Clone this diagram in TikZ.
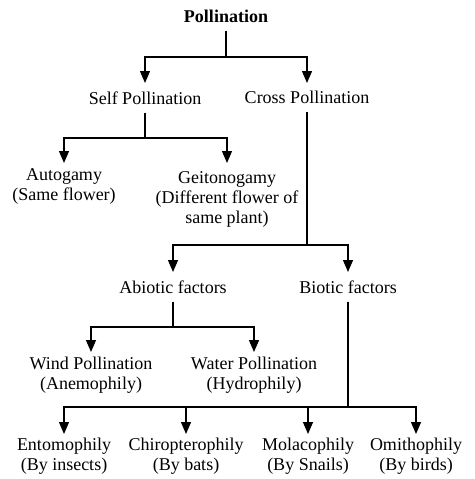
\documentclass[tikz,border=0pt]{standalone}
\usepackage{fontspec}
\setmainfont{Liberation Serif}
\usetikzlibrary{arrows.meta}

\begin{document}
\begin{tikzpicture}[x=1pt,y=-1pt,line width=1.3pt,
    arr/.style={-{Triangle[width=10pt,length=12pt]}},
    lbl/.style={align=center,inner xsep=0pt,inner ysep=3pt,anchor=north,
      font=\fontsize{18}{20}\selectfont}]
  \useasboundingbox (0,0) rectangle (474,479);

  % levels
  \node[lbl,anchor=base,inner ysep=8pt,font=\fontsize{18}{20}\selectfont\bfseries] (poll) at (226,22) {Pollination};
  \node[lbl,inner ysep=7.7pt] (self) at (145,83) {Self Pollination};
  \node[lbl,inner ysep=7.7pt] (cross) at (307,83) {Cross Pollination};
  \node[lbl,inner ysep=5pt] (auto) at (64,163) {Autogamy\\(Same flower)};
  \node[lbl,inner ysep=8pt] (geito) at (227,163) {Geitonogamy\\(Different flower of\\same plant)};
  \node[lbl,inner ysep=7.7pt] (abio) at (173,272) {Abiotic factors};
  \node[lbl,inner ysep=7.7pt] (bio) at (348,272) {Biotic factors};
  \node[lbl,inner ysep=4pt] (wind) at (91,352) {Wind Pollination\\(Anemophily)};
  \node[lbl,inner ysep=4pt] (water) at (254,352) {Water Pollination\\(Hydrophily)};
  \node[lbl] (ento) at (64,434) {Entomophily\\(By insects)};
  \node[lbl] (chiro) at (186,434) {Chiropterophily\\(By bats)};
  \node[lbl] (mola) at (308,434) {Molacophily\\(By Snails)};
  \node[lbl] (orni) at (416,434) {Omithophily\\(By birds)};

  % bars
  \coordinate (pbar) at (0,57);
  \coordinate (sbar) at (0,138);
  \coordinate (cbar) at (0,245);
  \coordinate (abar) at (0,327);
  \coordinate (bbar) at (0,407);

  \draw[arr] (poll) -- (poll |- pbar) -| (self);
  \draw[arr] (poll) -- (poll |- pbar) -| (cross);
  \draw[arr] (self) -- (self |- sbar) -| (auto);
  \draw[arr] (self) -- (self |- sbar) -| (geito);
  \draw[arr] (cross) -- (cross |- cbar) -| (abio);
  \draw[arr] (cross) -- (cross |- cbar) -| (bio);
  \draw[arr] (abio) -- (abio |- abar) -| (wind);
  \draw[arr] (abio) -- (abio |- abar) -| (water);
  \foreach \leaf in {ento,chiro,mola,orni}
    \draw[arr] (bio) -- (bio |- bbar) -| (\leaf);
\end{tikzpicture}
\end{document}
